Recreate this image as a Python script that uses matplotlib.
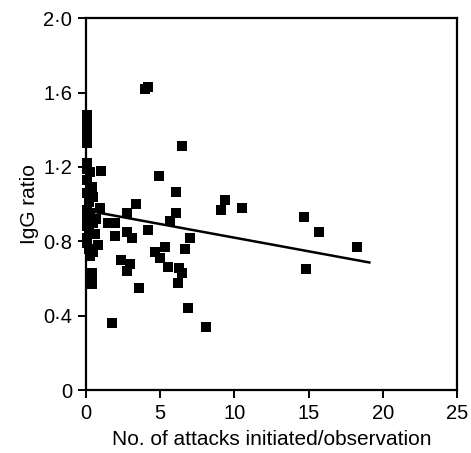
import matplotlib
matplotlib.use("Agg")
import matplotlib.pyplot as plt
from matplotlib.ticker import FixedLocator, FuncFormatter

# attacks initiated per observation vs IgG ratio
attacks = [0.05, 0.1, 0.05, 0.1, 0.05, 0.1, 0.05, 0.1, 0.3, 0.05, 0.4, 0.1, 0.5, 0.2,
           0.95, 1.0, 0.05, 0.1, 0.5, 0.05, 0.6, 0.1, 0.05, 0.8, 0.2, 0.5, 0.3,
           0.4, 0.4, 0.4, 0.2, 0.7, 0.3,
           1.5, 1.95, 1.95, 2.75, 2.75, 3.1, 3.4, 2.35, 2.95, 2.75, 3.6, 1.75,
           4.0, 4.2, 4.2, 4.9, 6.45, 6.05, 6.05, 5.65, 7.0, 6.7, 5.3, 4.65, 5.0,
           5.5, 6.3, 6.5, 6.2, 6.9, 8.1,
           9.4, 9.1, 10.5, 14.7, 15.7, 18.3, 14.8]
igg = [1.48, 1.45, 1.42, 1.39, 1.36, 1.33, 1.22, 1.19, 1.17, 1.13, 1.09, 1.06, 1.04, 1.01,
       0.98, 1.18, 0.97, 0.93, 0.90, 0.88, 0.84, 0.82, 0.79, 0.78, 0.76, 0.74, 0.72,
       0.63, 0.60, 0.57, 0.86, 0.92, 0.95,
       0.90, 0.90, 0.83, 0.95, 0.85, 0.82, 1.00, 0.70, 0.68, 0.64, 0.55, 0.36,
       1.62, 1.63, 0.86, 1.15, 1.31, 1.065, 0.95, 0.91, 0.82, 0.76, 0.77, 0.74, 0.71,
       0.66, 0.655, 0.63, 0.575, 0.44, 0.34,
       1.02, 0.97, 0.98, 0.93, 0.85, 0.77, 0.65]

# regression line end points
fit_x = [0, 19.1]
fit_y = [0.966, 0.686]

xticks = [0, 5, 10, 15, 20, 25]
yticks = [0, 0.4, 0.8, 1.2, 1.6, 2.0]

plt.rcParams['font.family'] = ['Liberation Sans', 'DejaVu Sans']

fig = plt.figure(figsize=(4.71, 4.53), dpi=100)
ax = fig.add_axes([0.1826, 0.139, 0.7874, 0.821])

ax.plot(attacks, igg, 's', color='black', markersize=7, markeredgewidth=0,
        clip_on=False)
ax.plot(fit_x, fit_y, '-', color='black', linewidth=1.8)

ax.set_xlim(0, 25)
ax.set_ylim(0, 2.0)
ax.xaxis.set_major_locator(FixedLocator(xticks))
ax.yaxis.set_major_locator(FixedLocator(yticks))
ax.yaxis.set_major_formatter(FuncFormatter(
    lambda v, p: '0' if v == 0 else ('%.1f' % v).replace('.', '\u00b7')))

for s in ax.spines.values():
    s.set_linewidth(1.6)
ax.tick_params(direction='out', length=6, width=1.4, labelsize=14.5, pad=4)

ax.set_xlabel('No. of attacks initiated/observation', fontsize=15, labelpad=5)
ax.set_ylabel('IgG ratio', fontsize=15, labelpad=3)

fig.savefig('out.png', dpi=100)
